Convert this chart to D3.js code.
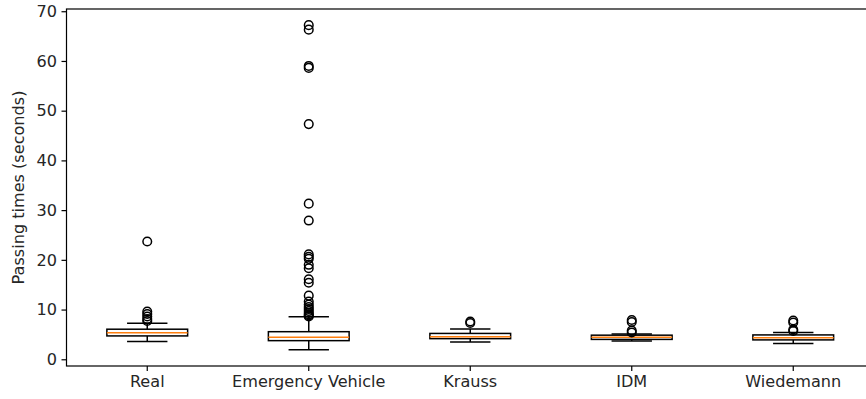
<!DOCTYPE html>
<html>
<head>
<meta charset="utf-8">
<script src="https://cdn.jsdelivr.net/npm/d3@7"></script>
<style>
  html, body { margin: 0; padding: 0; background: #fff; overflow: hidden; }
  svg { display: block; font-family: "DejaVu Sans", sans-serif; }
</style>
</head>
<body>
<svg id="chart" width="866" height="399"></svg>
<script>
// Passing-time distributions per car-following model
const categories = ["Real", "Emergency Vehicle", "Krauss", "IDM", "Wiedemann"];
const whiskerLow  = [3.6, 1.9, 3.5, 3.7, 3.2];
const q1          = [4.7, 3.75, 4.15, 4.0, 3.9];
const median      = [5.35, 4.45, 4.55, 4.45, 4.35];
const q3          = [6.05, 5.55, 5.2, 4.85, 4.9];
const whiskerHigh = [7.25, 8.55, 6.1, 5.1, 5.4];
const outliersReal = [23.7, 9.6, 9.1, 8.6, 8.1, 7.7];
const outliersEV = [67.2, 66.3, 59.0, 58.6, 47.3, 31.3, 27.9, 21.1, 20.6, 20.2, 19.0, 18.3,
                    16.1, 15.4, 12.8, 11.6, 11.0, 10.5, 10.1, 9.7, 9.3, 9.0, 8.8, 8.6];
const outliersKrauss = [7.6, 7.3];
const outliersIDM = [7.9, 7.5, 5.8, 5.4];
const outliersWiedemann = [7.8, 7.4, 6.0, 5.7];
const outliers = [outliersReal, outliersEV, outliersKrauss, outliersIDM, outliersWiedemann];
const yTicks = [0, 10, 20, 30, 40, 50, 60, 70];
const yLabel = "Passing times (seconds)";

const svg = d3.select("#chart");
const frame = { left: 66.5, right: 874, top: 9, bottom: 366 };
const fontSize = "16.1px";

const x = d3.scaleBand().domain(categories).range([frame.left, frame.right]).paddingInner(0).paddingOuter(0);
const y = d3.scaleLinear().domain([-1.35, 70.45]).range([frame.bottom, frame.top]);

const lw = 1.5;
const boxW = x.bandwidth() * 0.5;
const capW = x.bandwidth() * 0.25;

const g = svg.append("g");

categories.forEach((c, i) => {
  const cx = x(c) + x.bandwidth() / 2;
  const grp = g.append("g");
  // whiskers
  grp.append("line").attr("x1", cx).attr("x2", cx).attr("y1", y(q1[i])).attr("y2", y(whiskerLow[i]))
    .attr("stroke", "#000").attr("stroke-width", lw);
  grp.append("line").attr("x1", cx).attr("x2", cx).attr("y1", y(q3[i])).attr("y2", y(whiskerHigh[i]))
    .attr("stroke", "#000").attr("stroke-width", lw);
  // caps
  [whiskerLow[i], whiskerHigh[i]].forEach(v => {
    grp.append("line").attr("x1", cx - capW / 2).attr("x2", cx + capW / 2).attr("y1", y(v)).attr("y2", y(v))
      .attr("stroke", "#000").attr("stroke-width", lw);
  });
  // box
  grp.append("rect").attr("x", cx - boxW / 2).attr("width", boxW)
    .attr("y", y(q3[i])).attr("height", y(q1[i]) - y(q3[i]))
    .attr("fill", "none").attr("stroke", "#000").attr("stroke-width", lw);
  // median
  grp.append("line").attr("x1", cx - boxW / 2).attr("x2", cx + boxW / 2)
    .attr("y1", y(median[i])).attr("y2", y(median[i]))
    .attr("stroke", "#ff7f0e").attr("stroke-width", lw);
  // fliers
  grp.selectAll("circle").data(outliers[i]).join("circle")
    .attr("cx", cx).attr("cy", d => y(d)).attr("r", 4.3)
    .attr("fill", "none").attr("stroke", "#000").attr("stroke-width", 1.5);
});

// axes
const yAxis = svg.append("g").attr("transform", `translate(${frame.left},0)`)
  .call(d3.axisLeft(y).tickValues(yTicks).tickSize(5).tickPadding(4.5));
const xAxis = svg.append("g").attr("transform", `translate(0,${frame.bottom})`)
  .call(d3.axisBottom(x).tickSize(5).tickPadding(5));
[yAxis, xAxis].forEach(a => {
  a.select(".domain").remove();
  a.selectAll(".tick line").attr("stroke", "#000").attr("stroke-width", 1.2);
  a.selectAll(".tick text").attr("fill", "#262626").style("font-size", fontSize)
    .style("font-family", "'DejaVu Sans', sans-serif");
});

// frame
svg.append("rect").attr("x", frame.left).attr("y", frame.top)
  .attr("width", frame.right - frame.left).attr("height", frame.bottom - frame.top)
  .attr("fill", "none").attr("stroke", "#000").attr("stroke-width", 1.2);

// y label
svg.append("text")
  .attr("transform", `translate(24,${(frame.top + frame.bottom) / 2}) rotate(-90)`)
  .attr("text-anchor", "middle")
  .attr("fill", "#262626")
  .style("font-size", fontSize)
  .text(yLabel);
</script>
</body>
</html>
